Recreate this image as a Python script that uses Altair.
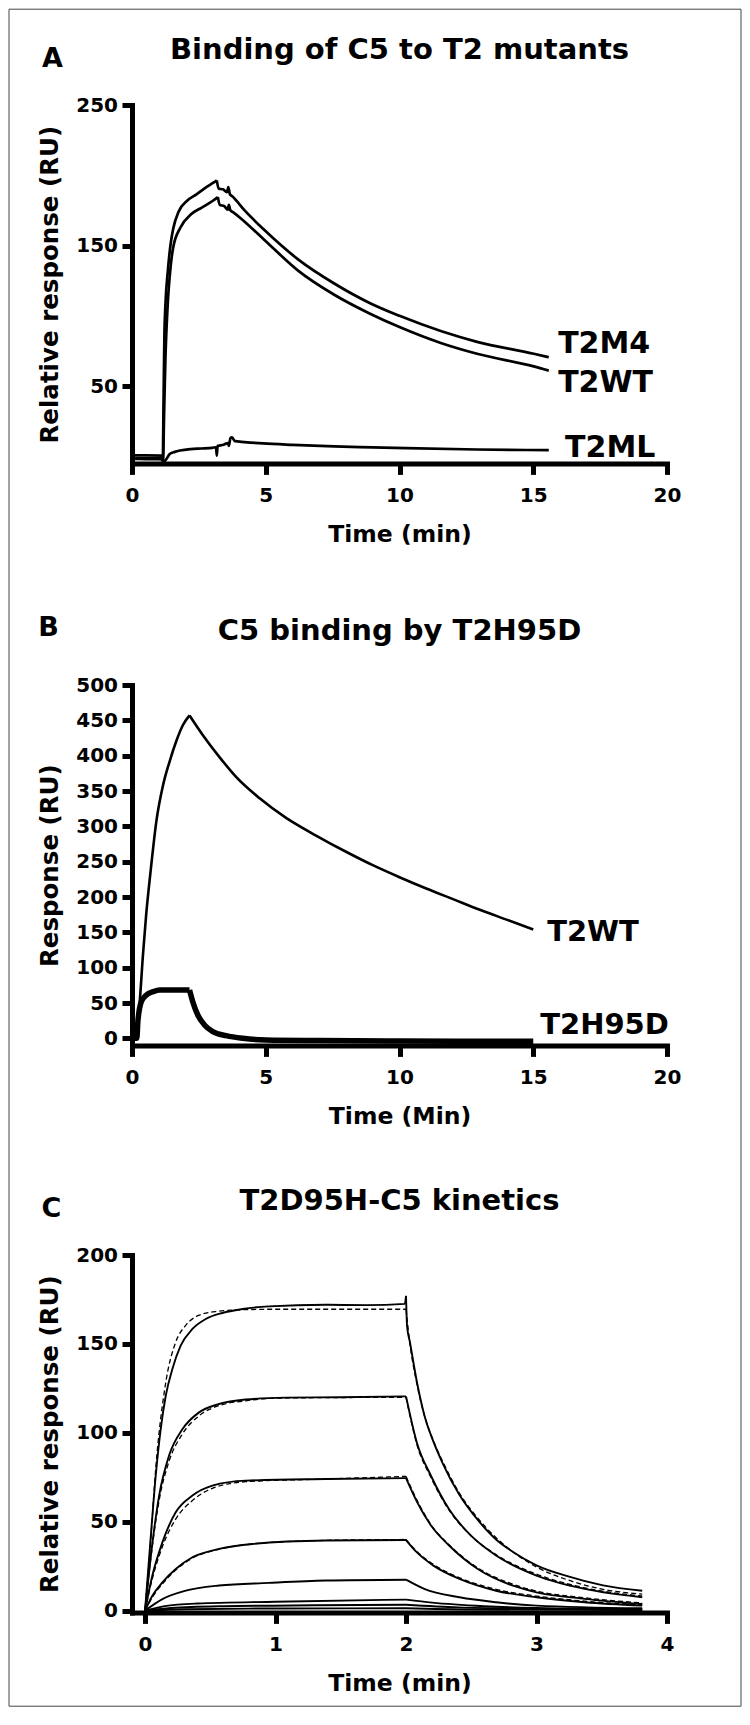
import altair as alt
import pandas as pd

FONT = "DejaVu Sans"

# ---------------- Panel A : Binding of C5 to T2 mutants ----------------
a_m4_t = [0, 0.5, 1.0, 1.12, 1.15, 1.18, 1.21, 1.25, 1.34, 1.45, 1.54, 1.74, 2.07, 2.41, 2.74, 3.04, 3.17, 3.24, 3.4,
          3.55, 3.6, 3.66, 3.75, 4.21, 4.95, 6.22, 7.56, 8.9, 10.0, 11.57, 12.9, 15.02, 15.58]
a_m4_v = [-1.0, -1.1, -1.3, -1.5, -3.2, 40, 85, 108, 132, 152, 162, 174, 182, 186.4, 191, 194.7, 196.4, 190.5, 190,
          188, 191.5, 186.5, 185, 175, 161, 140, 123, 109, 100, 89, 81.5, 73, 70.5]
a_wt_t = [0, 0.5, 1.0, 1.12, 1.16, 1.2, 1.25, 1.3, 1.34, 1.405, 1.538, 1.806, 2.207, 2.61, 3.01, 3.21, 3.28, 3.45,
          3.58, 3.62, 3.68, 3.8, 4.21, 4.95, 6.22, 7.56, 8.9, 10.0, 11.57, 12.9, 15.02, 15.58]
a_wt_v = [-1.8, -1.9, -2.0, -2.2, -3.4, 30, 70, 95, 110, 127, 148.5, 162.7, 172.2, 177, 181.7, 184.5, 179, 178,
          175.5, 179, 175, 173.5, 167, 154, 132, 115, 101.5, 92, 80.5, 73, 64, 61]
a_ml_t = [0, 0.5, 1.1, 1.15, 1.22, 1.3, 1.4, 1.6, 1.8, 2.2, 2.6, 3.0, 3.14, 3.17, 3.2, 3.3, 3.45, 3.58, 3.62, 3.68,
          3.74, 3.85, 4.2, 4.9, 6.0, 7.56, 9.0, 10.23, 12.9, 15.58]
a_ml_v = [0.8, 0.8, 0.6, -2.5, -3.2, -1.5, 1.5, 3.2, 4.2, 5.2, 5.6, 6.1, 6.5, 0.5, 7.5, 7.8, 8.5, 9.5, 7.5, 13,
          13.5, 10.8, 10.2, 9.2, 8.2, 7.1, 6.4, 5.8, 4.9, 4.4]
a_labels = ["T2M4", "T2WT", "T2ML"]
a_label_t = [15.93, 15.93, 16.19]
a_label_v = [80.2, 52.4, 6.2]

# ---------------- Panel B : C5 binding by T2H95D ----------------
b_wt_t = [0, 0.16, 0.28, 0.41, 0.53, 0.72, 0.91, 1.16, 1.4, 1.65, 1.9, 2.15, 2.65, 3.27, 3.89, 4.76, 5.76, 6.88,
          8, 9, 10, 11, 12, 13, 14, 15]
b_wt_v = [0, 0, 47, 118, 175, 245, 307, 358, 391, 420, 443, 457, 429, 398, 370, 340, 312, 287,
          264, 245, 228, 212, 197, 182, 168, 154]
b_h_t = [0, 0.18, 0.22, 0.35, 0.54, 0.79, 1.04, 1.6, 2.15, 2.27, 2.46, 2.71, 3.02, 3.52, 4.14, 5.01, 7, 10, 15]
b_h_v = [0, 0, 24, 52, 61.4, 66, 68.4, 68.5, 68.4, 52, 33, 19, 9.5, 3.8, 0, -2.4, -3.2, -3.8, -4.2]
b_labels = ["T2WT", "T2H95D"]
b_label_t = [15.52, 15.26]
b_label_v = [150.6, 18.3]

# ---------------- Panel C : T2D95H-C5 kinetics ----------------
c1_t = [0, 0.04, 0.082, 0.12, 0.159, 0.21, 0.273, 0.363, 0.465, 0.593, 0.746, 0.95, 1.385, 1.7, 1.99, 2.0, 2.008,
        2.03, 2.085, 2.14, 2.21, 2.28, 2.41, 2.55, 2.69, 2.82, 3.0, 3.23, 3.51, 3.81]
c1_v = [0, 38, 76, 102, 121, 136, 149, 158.4, 164, 167.4, 169.6, 171.1, 172, 171.8, 172.5, 177, 160,
        151, 128, 110, 95, 83, 65, 51, 40, 33, 25.5, 19.5, 14.2, 11.2]
c1f_t = [0, 0.04, 0.082, 0.159, 0.235, 0.31, 0.41, 0.54, 0.7, 1.0, 2.0, 2.03, 2.085, 2.14, 2.21, 2.28, 2.41, 2.55,
         2.69, 2.82, 3.0, 3.23, 3.51, 3.81]
c1f_v = [0, 36, 80, 128.4, 151, 160.3, 166, 168.2, 169.1, 169.5, 169.5, 150, 127, 110, 95.5, 84, 66, 52,
         41, 33, 24.5, 17.5, 12, 9.3]
c2_t = [0, 0.057, 0.108, 0.184, 0.287, 0.414, 0.567, 0.77, 1.08, 1.5, 2.0, 2.085, 2.19, 2.33, 2.5, 2.69, 3.0, 3.37,
        3.81]
c2_v = [0, 38.4, 64.7, 87.2, 102.1, 111.5, 116.2, 118.7, 119.8, 120, 120.5, 94, 76, 57, 42, 31, 19.7, 12.2, 7.5]
c2f_t = [0, 0.057, 0.108, 0.184, 0.286, 0.414, 0.567, 0.772, 1.0, 2.0, 2.085, 2.19, 2.33, 2.5, 2.69, 3.0, 3.37, 3.81]
c2f_v = [0, 37, 62, 84, 99.3, 109.6, 115.3, 118, 119.5, 120, 93, 75, 56.5, 42, 31.5, 20.5, 12.8, 8.2]
c3_t = [0, 0.056, 0.133, 0.235, 0.363, 0.516, 0.772, 1.385, 2.0, 2.085, 2.19, 2.33, 2.55, 2.82, 3.0, 3.37, 3.81]
c3_v = [0, 19.7, 38.4, 55.3, 64.7, 70.3, 73.1, 74, 74.5, 61, 48, 36.6, 23.4, 14, 10.3, 6.6, 3.7]
c3f_v = [0, 18, 36, 51.5, 61.9, 68.8, 72.5, 74, 75.5, 62, 48.5, 37, 24, 14.8, 11, 7.2, 4.3]
c4_t = [0, 0.056, 0.133, 0.235, 0.363, 0.567, 0.823, 1.385, 2.0, 2.08, 2.21, 2.41, 2.69, 3.0, 3.37, 3.81]
c4_v = [0, 8.4, 15.9, 23.4, 30, 34.7, 37.5, 39.4, 39.7, 33, 25.3, 17.8, 11.2, 7.5, 4.7, 2.8]
c4f_v = [0, 7.5, 15, 22.8, 29.5, 34.5, 37.5, 39.5, 40, 33.5, 26, 18.5, 12, 8.2, 5.3, 3.3]
c5_t = [0, 0.133, 0.312, 0.567, 0.95, 1.385, 2.0, 2.14, 2.41, 2.69, 3.0, 3.81]
c5_v = [0, 6.5, 11.2, 14.1, 15.6, 16.9, 17.4, 12.2, 7.5, 4.7, 2.8, 1.3]
c6_t = [0, 0.15, 0.4, 1.0, 2.0, 2.2, 2.6, 3.0, 3.81]
c6_v = [0, 2.5, 4, 5, 6.2, 4.5, 2.5, 1.5, 0.8]
c7_t = [0, 0.2, 0.6, 1.3, 2.0, 2.4, 3.0, 3.81]
c7_v = [0, 1.5, 2.5, 3.0, 3.3, 1.8, 1.0, 0.5]
c8_t = [0, 0.3, 1.0, 2.0, 2.5, 3.81]
c8_v = [0, 0.8, 1.2, 1.3, 0.6, 0.3]


def lines(series):
    """series: (name, times, values, split_time or None). A split starts a new
    segment (sharing the split point) so that phase changes keep a sharp corner."""
    rows = []
    for name, ts, vs, split in series:
        for i, (t, v) in enumerate(zip(ts, vs)):
            if split is None:
                rows.append({"series": name, "t": t, "v": v, "i": i})
            else:
                if t <= split:
                    rows.append({"series": name + "_a", "t": t, "v": v, "i": i})
                if t >= split:
                    rows.append({"series": name + "_b", "t": t, "v": v, "i": i})
    return pd.DataFrame(rows)


ONE = pd.DataFrame({"k": [0]})
W = 535
FRAME_L, FRAME_R = -123, 609


def rule(x, x2, y, y2):
    return alt.Chart(ONE).mark_rule(color="#444444", strokeWidth=1).encode(
        x=alt.value(x), x2=alt.value(x2), y=alt.value(y), y2=alt.value(y2))


def text_at(txt, x, y, size):
    return alt.Chart(pd.DataFrame({"txt": [txt]})).mark_text(
        font=FONT, fontWeight="bold", fontSize=size, color="black", align="center", baseline="middle"
    ).encode(x=alt.value(x), y=alt.value(y), text="txt:N")


def panel(line_specs, xdom, xvals, xtitle, ydom, yvals, ytitle, height, title, title_y,
          letter, letter_x, letter_y, label_df, label_size, frame_parts):
    X = alt.X("t:Q", scale=alt.Scale(domain=xdom, nice=False, zero=False),
              axis=alt.Axis(values=xvals, title=xtitle))
    Y = alt.Y("v:Q", scale=alt.Scale(domain=ydom, nice=False, zero=False),
              axis=alt.Axis(values=yvals, title=ytitle))
    layers = []
    for df, width, dash in line_specs:
        kw = dict(color="black", strokeWidth=width, interpolate="monotone")
        if dash:
            kw["strokeDash"] = dash
        layers.append(alt.Chart(df).mark_line(**kw).encode(
            x=X, y=Y, detail="series:N", order="i:Q"))
    if label_df is not None:
        layers.append(alt.Chart(label_df).mark_text(
            font=FONT, fontWeight="bold", fontSize=label_size, color="black", align="left", baseline="middle"
        ).encode(x=X, y=Y, text="label:N"))
    layers.append(text_at(title, W / 2, title_y, 29))
    layers.append(text_at(letter, letter_x, letter_y, 27))
    layers.extend(frame_parts)
    return alt.layer(*layers).properties(width=W, height=height)


HA, HB, HC = 358.4, 360.4, 357.4
GAP1, GAP2 = 220.6, 209.0
TOP = -95.8
BOTTOM_A = HA + GAP1 + HB + GAP2 + 452.8   # bottom frame line, relative to panel A's plot top

# Panel A (draws the whole outer frame)
dfA = lines([("T2M4", a_m4_t, a_m4_v, 3.17), ("T2WT", a_wt_t, a_wt_v, 3.21), ("T2ML", a_ml_t, a_ml_v, None)])
labA = pd.DataFrame({"label": a_labels, "t": a_label_t, "v": a_label_v})
pA = panel([(dfA, 2.7, None)], [0, 20], [0, 5, 10, 15, 20], "Time (min)",
           [-5, 250], [50, 150, 250], "Relative response (RU)", HA,
           "Binding of C5 to T2 mutants", -55.3, "A", -79.5, -46.3, labA, 30,
           [rule(FRAME_L, FRAME_R, TOP, TOP),
            rule(FRAME_L, FRAME_L, TOP, BOTTOM_A),
            rule(FRAME_R, FRAME_R, TOP, BOTTOM_A),
            rule(FRAME_L, FRAME_R, BOTTOM_A, BOTTOM_A)])

# Panel B
dfB1 = lines([("T2WT", b_wt_t, b_wt_v, 2.15)])
dfB2 = lines([("T2H95D", b_h_t, b_h_v, 2.15)])
labB = pd.DataFrame({"label": b_labels, "t": b_label_t, "v": b_label_v})
pB = panel([(dfB1, 2.6, None), (dfB2, 5.5, None)], [0, 20], [0, 5, 10, 15, 20], "Time (Min)",
           [-10, 500], list(range(0, 501, 50)), "Response (RU)", HB,
           "C5 binding by T2H95D", -54.3, "B", -83.5, -57.3, labB, 29, [])

# Panel C
dfC = lines([("c1", c1_t, c1_v, 2.0), ("c2", c2_t, c2_v, 2.0), ("c3", c3_t, c3_v, 2.0), ("c4", c4_t, c4_v, 2.0),
             ("c5", c5_t, c5_v, 2.0), ("c6", c6_t, c6_v, 2.0), ("c7", c7_t, c7_v, 2.0), ("c8", c8_t, c8_v, 2.0)])
dfCf = lines([("f1", c1f_t, c1f_v, 2.0), ("f2", c2f_t, c2f_v, 2.0), ("f3", c3_t, c3f_v, 2.0),
              ("f4", c4_t, c4f_v, 2.0)])
pC = panel([(dfCf, 1.3, [5, 3]), (dfC, 1.9, None)], [-0.1, 4], [0, 1, 2, 3, 4], "Time (min)",
           [-1, 200], [0, 50, 100, 150, 200], "Relative response (RU)", HC,
           "T2D95H-C5 kinetics", -53.7, "C", -80.5, -45.7, None, 29, [])


def spacer(h):
    return alt.Chart(ONE).mark_point(opacity=0).encode(
        x=alt.value(0), y=alt.value(0)).properties(width=W, height=h)


chart = alt.vconcat(pA, spacer(GAP1), pB, spacer(GAP2), pC, spacing=0, bounds="flush").properties(
    padding=0, background="white"
).configure_view(stroke=None).configure_axis(
    domainColor="black", domainWidth=5, domainCap="square", tickColor="black", tickWidth=5,
    labelFont=FONT, labelFontWeight="bold", labelColor="black", labelFontSize=20,
    titleFont=FONT, titleFontWeight="bold", titleColor="black",
    grid=False, labelFlush=False, labelOverlap=False
).configure_axisX(
    tickSize=11, labelPadding=11.5, titleFontSize=23.5, titlePadding=17
).configure_axisY(
    tickSize=10, labelPadding=4.5, titleFontSize=24.5, titlePadding=13.4
)

chart.save("out.html", embed_options={"renderer": "svg", "actions": False})
